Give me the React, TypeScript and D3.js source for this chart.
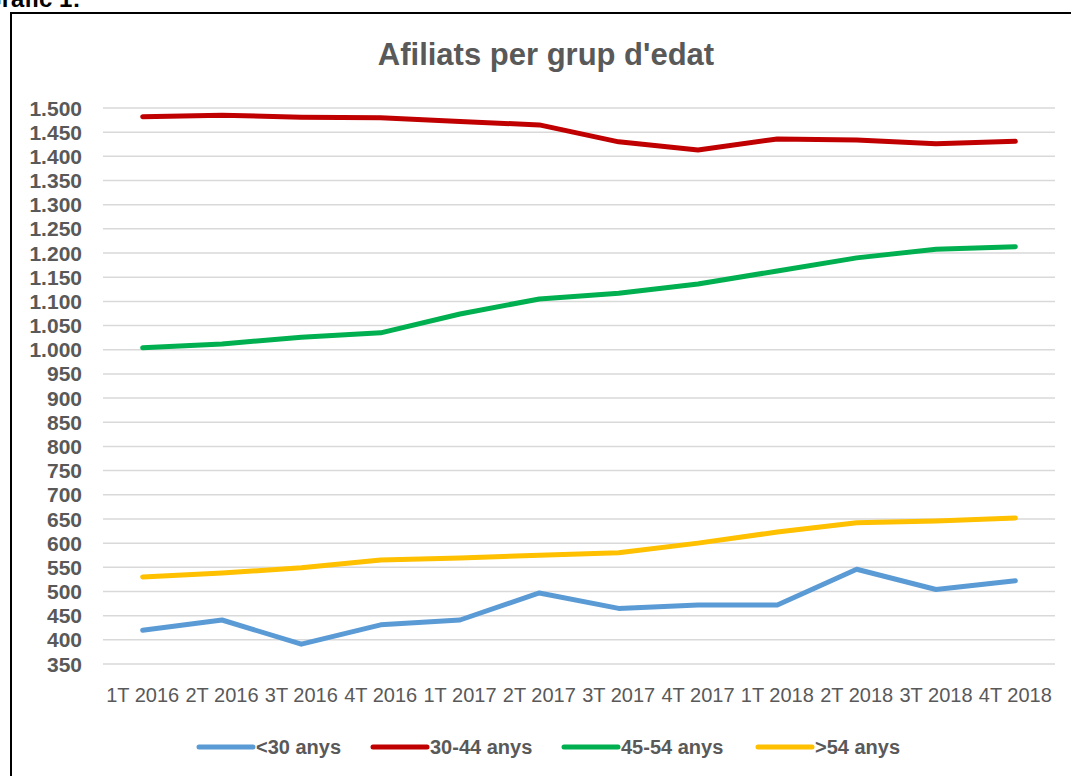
import React, { useRef, useEffect } from 'react';
import * as d3 from 'd3';

const categories = ['1T 2016', '2T 2016', '3T 2016', '4T 2016', '1T 2017', '2T 2017', '3T 2017', '4T 2017', '1T 2018', '2T 2018', '3T 2018', '4T 2018'];

const under30 = [420, 441, 391, 431, 441, 497, 465, 472, 472, 546, 504, 522];
const age30to44 = [1482, 1485, 1481, 1480, 1472, 1465, 1430, 1413, 1436, 1434, 1426, 1431];
const age45to54 = [1004, 1012, 1026, 1035, 1074, 1105, 1117, 1136, 1163, 1190, 1208, 1213];
const over54 = [530, 538, 549, 565, 569, 575, 580, 600, 623, 642, 646, 652];

const seriesNames = ['<30 anys', '30-44 anys', '45-54 anys', '>54 anys'];
const seriesColors = ['#5b9bd5', '#c00000', '#00b050', '#ffc000'];

const yTicks = d3.range(350, 1501, 50);

const W = 1071;
const H = 776;
const FONT = '"Liberation Sans", Arial, sans-serif';
const GREY = '#595959';

export default function App() {
    const svgRef = useRef<SVGSVGElement>(null);

    useEffect(() => {
        const svg = d3.select(svgRef.current);
        svg.selectAll('*').remove();

        const series = [under30, age30to44, age45to54, over54];
        const locale = d3.formatLocale({ decimal: ',', thousands: '.', grouping: [3], currency: ['', ''] });
        const fmt = locale.format(',');

        const x = d3.scalePoint<string>().domain(categories).range([103, 1055]).padding(0.5);
        const y = d3.scaleLinear().domain([350, 1500]).range([664, 108]);

        svg.append('rect').attr('width', W).attr('height', H).attr('fill', '#fff');

        // caption above the frame, cut by the top edge like in the source
        svg.append('text')
            .attr('x', -17).attr('y', 7)
            .attr('font-family', FONT).attr('font-weight', 'bold').attr('font-size', 24)
            .attr('fill', '#000')
            .text('Gràfic 1:');

        // chart frame
        svg.append('rect')
            .attr('x', 11).attr('y', 13).attr('width', W + 20).attr('height', H + 20)
            .attr('fill', 'none').attr('stroke', '#000').attr('stroke-width', 2);

        svg.append('text')
            .attr('x', 546).attr('y', 65)
            .attr('text-anchor', 'middle')
            .attr('font-family', FONT).attr('font-weight', 'bold').attr('font-size', 31)
            .attr('fill', GREY)
            .text("Afiliats per grup d'edat");

        // gridlines
        svg.append('g').selectAll('line')
            .data(yTicks)
            .join('line')
            .attr('x1', 103).attr('x2', 1055)
            .attr('y1', d => y(d)).attr('y2', d => y(d))
            .attr('stroke', '#d9d9d9').attr('stroke-width', 1.5);

        // y labels
        svg.append('g').selectAll('text')
            .data(yTicks)
            .join('text')
            .attr('x', 82).attr('y', d => y(d))
            .attr('dy', '0.36em')
            .attr('text-anchor', 'end')
            .attr('font-family', FONT).attr('font-weight', 'bold').attr('font-size', 21)
            .attr('fill', GREY)
            .text(d => fmt(d));

        // x labels
        svg.append('g').selectAll('text')
            .data(categories)
            .join('text')
            .attr('x', d => x(d)!).attr('y', 702)
            .attr('text-anchor', 'middle')
            .attr('font-family', FONT).attr('font-size', 20)
            .attr('fill', GREY)
            .text(d => d);

        const line = d3.line<number>()
            .x((_, i) => x(categories[i])!)
            .y(d => y(d));

        svg.append('g').selectAll('path')
            .data(series)
            .join('path')
            .attr('d', d => line(d))
            .attr('fill', 'none')
            .attr('stroke', (_, i) => seriesColors[i])
            .attr('stroke-width', 5)
            .attr('stroke-linecap', 'round')
            .attr('stroke-linejoin', 'round');

        // legend
        const legendX = [199, 373, 564, 758];
        const lg = svg.append('g').selectAll('g')
            .data(seriesNames)
            .join('g')
            .attr('transform', (_, i) => `translate(${legendX[i]},747)`);
        lg.append('line')
            .attr('x1', 0).attr('x2', 54)
            .attr('stroke', (_, i) => seriesColors[i])
            .attr('stroke-width', 5)
            .attr('stroke-linecap', 'round');
        lg.append('text')
            .attr('x', 57).attr('dy', '0.36em')
            .attr('font-family', FONT).attr('font-weight', 'bold').attr('font-size', 20)
            .attr('fill', GREY)
            .text(d => d);
    }, []);

    return (
        <svg ref={svgRef} width={W} height={H} style={{ position: 'absolute', left: 0, top: 0 }} />
    );
}
